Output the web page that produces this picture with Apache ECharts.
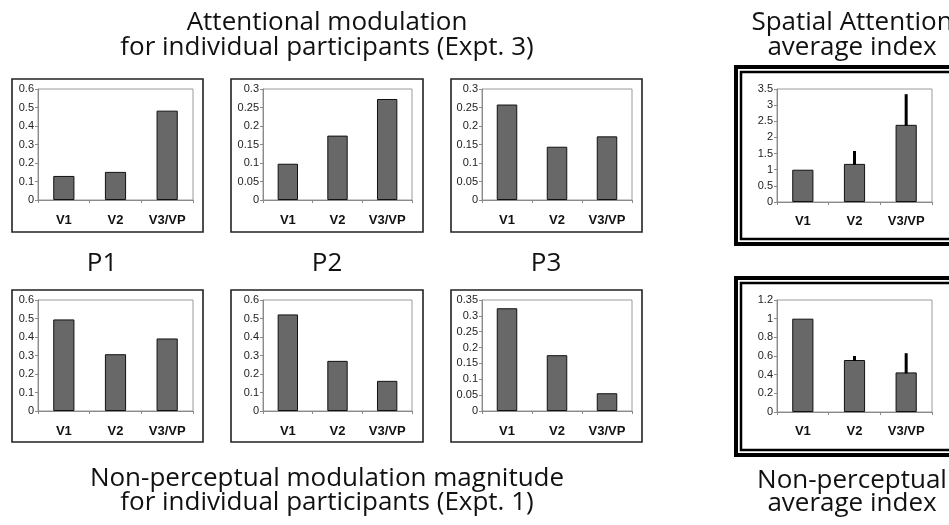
<!DOCTYPE html>
<html>
<head>
<meta charset="utf-8">
<script src="https://cdn.jsdelivr.net/npm/echarts@6/dist/echarts.min.js"></script>
<style>
html,body{margin:0;padding:0;background:#fff;}
#c{width:949px;height:525px;}
</style>
</head>
<body>
<div id="c"></div>
<script>
// ---- data ----
const categories = ['V1', 'V2', 'V3/VP'];
const attnP1 = [0.130, 0.152, 0.483];
const attnP2 = [0.098, 0.174, 0.273];
const attnP3 = [0.258, 0.144, 0.172];
const nonpP1 = [0.495, 0.307, 0.392];
const nonpP2 = [0.522, 0.271, 0.163];
const nonpP3 = [0.324, 0.176, 0.056];
const spatialAvg = [1.00, 1.18, 2.39];
const spatialErrTop = [null, 1.58, 3.34];
const nonpAvg = [1.00, 0.557, 0.424];
const nonpErrTop = [null, 0.60, 0.63];
const yMax = [0.6, 0.3, 0.3, 0.6, 0.6, 0.35, 3.5, 1.2];
const yStep = [0.1, 0.05, 0.05, 0.1, 0.1, 0.05, 0.5, 0.2];
const titleTopLeft = ['Attentional modulation', 'for individual participants (Expt. 3)'];
const titleBottomLeft = ['Non-perceptual modulation magnitude', 'for individual participants (Expt. 1)'];
const titleTopRight = ['Spatial Attention', 'average index'];
const titleBottomRight = ['Non-perceptual', 'average index'];
const participantLabels = ['P1', 'P2', 'P3'];

// ---- layout (pixels) ----
const seriesList = [attnP1, attnP2, attnP3, nonpP1, nonpP2, nonpP3, spatialAvg, nonpAvg];
const plots = [
  {l: 38,  r: 193, t: 89,  b: 200},
  {l: 263, r: 412, t: 89,  b: 200},
  {l: 482, r: 632, t: 89,  b: 200},
  {l: 38,  r: 193, t: 300, b: 411},
  {l: 263, r: 412, t: 300, b: 411},
  {l: 482, r: 632, t: 300, b: 411},
  {l: 777, r: 932, t: 89,  b: 202},
  {l: 777, r: 932, t: 300, b: 412}
];
const boxes = [
  {x: 12, y: 79, w: 191, h: 153},
  {x: 231, y: 79, w: 192, h: 153},
  {x: 451, y: 79, w: 191, h: 153},
  {x: 12, y: 290, w: 191, h: 152},
  {x: 231, y: 290, w: 192, h: 152},
  {x: 451, y: 290, w: 191, h: 152}
];

const grid = [], xAxis = [], yAxis = [], series = [];
plots.forEach((p, i) => {
  grid.push({left: p.l, top: p.t, width: p.r - p.l, height: p.b - p.t,
    show: true, borderColor: '#9a9a9a', borderWidth: 1, backgroundColor: '#fff'});
  xAxis.push({type: 'category', gridIndex: i, data: categories,
    axisLine: {lineStyle: {color: '#8a8a8a', width: 1}},
    axisTick: {show: true, length: 3, interval: 0, lineStyle: {color: '#8a8a8a'}},
    axisLabel: {fontFamily: '"Liberation Sans", Arial, sans-serif', fontWeight: 'bold', fontSize: 13, color: '#111', margin: i >= 6 ? 13 : 14, interval: 0},
    splitLine: {show: false}});
  yAxis.push({type: 'value', gridIndex: i, min: 0, max: yMax[i], interval: yStep[i],
    axisLine: {show: true, lineStyle: {color: '#8a8a8a', width: 1}},
    axisTick: {show: true, length: 3, lineStyle: {color: '#8a8a8a'}},
    axisLabel: {fontFamily: '"Liberation Sans", Arial, sans-serif', fontSize: 11, color: '#222', margin: 4},
    splitLine: {show: false}});
  series.push({type: 'bar', xAxisIndex: i, yAxisIndex: i, data: seriesList[i],
    barWidth: '41%',
    itemStyle: {color: '#686868', borderColor: '#111', borderWidth: 1},
    silent: true, animation: false});
});

function errData(avg, top) {
  const out = [];
  avg.forEach((v, k) => { if (top[k] != null) out.push([k, v, top[k]]); });
  return out;
}
function errSeries(idx, data) {
  return {type: 'custom', xAxisIndex: idx, yAxisIndex: idx, data: data, z: 5, animation: false, silent: true,
    renderItem: function (params, api) {
      const a = api.coord([api.value(0), api.value(1)]);
      const b = api.coord([api.value(0), api.value(2)]);
      return {type: 'line', shape: {x1: a[0], y1: a[1] + 1, x2: b[0], y2: b[1]},
        style: {stroke: '#000', lineWidth: 3}};
    }};
}
series.push(errSeries(6, errData(spatialAvg, spatialErrTop)));
series.push(errSeries(7, errData(nonpAvg, nonpErrTop)));

const titleFont = '26px "Open Sans", sans-serif';
function txt(s, x, y, font) {
  return {type: 'text', x: x, y: y, z: 10, silent: true,
    style: {text: s, font: font || titleFont, fill: '#111', textAlign: 'center', textVerticalAlign: 'middle'}};
}
const graphics = [];
boxes.forEach(b => {
  graphics.push({type: 'rect', shape: {x: b.x, y: b.y, width: b.w, height: b.h}, z: -1, silent: true,
    style: {fill: '#fff', stroke: '#222', lineWidth: 1.6}});
});
// right double-bordered boxes
[[65, 181], [276, 181]].forEach(([y, h]) => {
  graphics.push({type: 'rect', shape: {x: 736, y: y + 2, width: 240, height: h - 4}, z: -1, silent: true,
    style: {fill: '#fff', stroke: '#000', lineWidth: 4}});
  graphics.push({type: 'rect', shape: {x: 741, y: y + 7, width: 230, height: h - 14}, z: -1, silent: true,
    style: {fill: 'none', stroke: '#000', lineWidth: 2.5}});
});
graphics.push(txt(titleTopLeft[0], 327, 23));
graphics.push(txt(titleTopLeft[1], 327, 48));
graphics.push(txt(titleTopRight[0], 852, 23));
graphics.push(txt(titleTopRight[1], 852, 48));
graphics.push(txt(titleBottomLeft[0], 327, 479));
graphics.push(txt(titleBottomLeft[1], 327, 503));
graphics.push(txt(titleBottomRight[0], 852, 481));
graphics.push(txt(titleBottomRight[1], 852, 504));
[102, 327, 546].forEach((x, k) => graphics.push(txt(participantLabels[k], x, 264)));

const chart = echarts.init(document.getElementById('c'), null, {renderer: 'canvas'});
chart.setOption({
  animation: false,
  backgroundColor: '#fff',
  grid: grid, xAxis: xAxis, yAxis: yAxis, series: series,
  graphic: {elements: graphics}
});
</script>
</body>
</html>
